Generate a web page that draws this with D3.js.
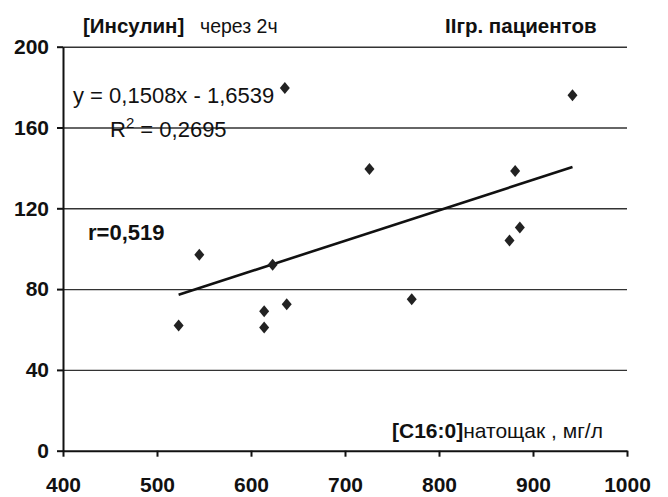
<!DOCTYPE html>
<html>
<head>
<meta charset="utf-8">
<script src="https://cdn.jsdelivr.net/npm/d3@7"></script>
<style>
  body { margin: 0; background: #fff; }
  text { font-family: "Liberation Sans", Arial, sans-serif; fill: #111; }
</style>
</head>
<body>
<svg></svg>
<script>
// data
const xValues = [523, 545, 623, 614, 614, 638, 771, 726, 881, 886, 875, 942, 636];
const yValues = [62, 97, 92, 69, 61, 72.5, 75, 139.5, 138.5, 110.5, 104, 176, 179.5];
const xTicks = [400, 500, 600, 700, 800, 900, 1000];
const yTicks = [0, 40, 80, 120, 160, 200];
const slope = 0.1508;
const intercept = -1.6539;

const width = 668;
const height = 497;
const padLeft = 63, padRight = 627, padTop = 46.7, padBottom = 450.7;

const svg = d3.select("svg").attr("width", width).attr("height", height);

const x = d3.scaleLinear().domain([400, 1000]).range([padLeft, padRight]);
const y = d3.scaleLinear().domain([0, 200]).range([padBottom, padTop]);

// horizontal gridlines
svg.append("g")
  .attr("transform", "translate(" + padLeft + ",0)")
  .call(d3.axisLeft(y).tickValues(yTicks.slice(1)).tickSize(-(padRight - padLeft)).tickFormat(""))
  .call(g => g.select(".domain").remove())
  .call(g => g.selectAll("line").attr("stroke", "#333").attr("stroke-width", 1.4));

// y axis
let yAxis = svg.append("g")
  .attr("transform", "translate(" + padLeft + ",0)")
  .call(d3.axisLeft(y).tickValues(yTicks).tickSize(6).tickPadding(8).tickSizeOuter(0));
yAxis.selectAll("text").style("font-size", "21px").style("font-weight", "bold");

// x axis
let xAxis = svg.append("g")
  .attr("transform", "translate(0," + padBottom + ")")
  .call(d3.axisBottom(x).tickValues(xTicks).tickFormat(d3.format("d"))
    .tickSize(6).tickPadding(20).tickSizeOuter(0));
xAxis.selectAll("text").style("font-size", "21px").style("font-weight", "bold");

svg.selectAll(".domain").attr("stroke", "#111").attr("stroke-width", 2);
yAxis.selectAll("line").attr("stroke", "#111").attr("stroke-width", 2);
xAxis.selectAll("line").attr("stroke", "#111").attr("stroke-width", 2);

// trend line
let xmin = d3.min(xValues), xmax = d3.max(xValues);
svg.append("line")
  .attr("x1", x(xmin)).attr("y1", y(slope * xmin + intercept))
  .attr("x2", x(xmax)).attr("y2", y(slope * xmax + intercept))
  .attr("stroke", "#111").attr("stroke-width", 2.6);

// points
svg.selectAll(".pt")
  .data(xValues)
  .enter()
  .append("path")
  .attr("class", "pt")
  .attr("d", "M0,-6L5,0L0,6L-5,0Z")
  .attr("fill", "#222")
  .attr("transform", (d, i) => "translate(" + x(d) + "," + y(yValues[i]) + ")");

// texts
svg.append("text").attr("x", 83).attr("y", 33)
  .style("font-size", "20.5px").style("font-weight", "bold").text("[Инсулин]");
svg.append("text").attr("x", 200).attr("y", 33)
  .style("font-size", "19.5px").text("через 2ч");
svg.append("text").attr("x", 445).attr("y", 33)
  .style("font-size", "20.5px").style("font-weight", "bold").text("IIгр. пациентов");

svg.append("text").attr("x", 73).attr("y", 103)
  .style("font-size", "22px").text("y = 0,1508x - 1,6539");
let r2 = svg.append("text").attr("x", 110).attr("y", 137).style("font-size", "22px");
r2.append("tspan").text("R");
r2.append("tspan").attr("dy", -9).style("font-size", "15px").text("2");
r2.append("tspan").attr("dy", 9).text(" = 0,2695");

svg.append("text").attr("x", 88).attr("y", 240)
  .style("font-size", "22px").style("font-weight", "bold").text("r=0,519");

let xl = svg.append("text").attr("x", 392).attr("y", 438).style("font-size", "21px");
xl.append("tspan").style("font-weight", "bold").text("[C16:0]");
xl.append("tspan").text("натощак , мг/л");
</script>
</body>
</html>
